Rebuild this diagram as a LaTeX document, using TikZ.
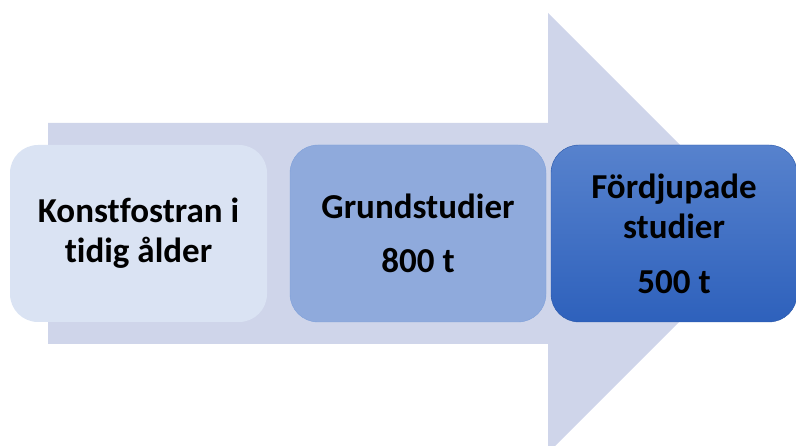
\documentclass[tikz,border=0pt]{standalone}
\usepackage{fontspec}
\setmainfont[Ligatures=NoCommon]{Carlito}
\usetikzlibrary{shapes,arrows.meta}
\definecolor{arrowfill}{HTML}{CFD5EA}
\definecolor{boxa}{HTML}{DAE3F3}
\definecolor{boxb}{HTML}{8FAADC}
\definecolor{boxbline}{HTML}{7EA0DA}
\definecolor{boxctop}{HTML}{5782CD}
\definecolor{boxcbot}{HTML}{2E61BC}
\begin{document}
\begin{tikzpicture}[x=1pt,y=-1pt]
		\useasboundingbox (0,0) rectangle (796,446);
		\fill[arrowfill] (48,123) -- (548,123) -- (548,13) -- (768,233)
			-- (548,453) -- (548,344) -- (48,344) -- cycle;
		\begin{scope}[every node/.style={rounded corners=28pt,minimum height=177pt,
				align=center,font=\fontsize{35}{40}\selectfont\bfseries,inner sep=0pt}]
			\node[fill=boxa,minimum width=257pt] (early) at (138.5,233.5)
				{Konstfostran i\\tidig ålder};
			\node[fill=boxb,draw=boxbline,minimum width=256pt] (basic) at (418,233.5)
				{Grundstudier\\[14pt]800 t};
			\node[top color=boxctop,bottom color=boxcbot,draw=boxcbot!90!black,
				minimum width=246pt] (adv) at (674,233.5)
				{Fördjupade\\studier\\[15pt]500 t};
		\end{scope}
	\end{tikzpicture}
\end{document}
